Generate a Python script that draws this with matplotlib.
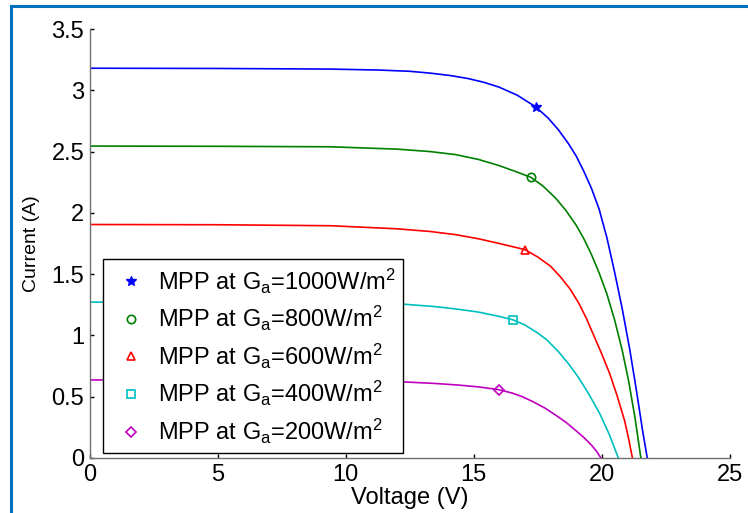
import matplotlib
matplotlib.use("Agg")
import matplotlib.pyplot as plt
from matplotlib.lines import Line2D

plt.rcParams['font.family'] = ['Liberation Sans', 'DejaVu Sans']
plt.rcParams['mathtext.default'] = 'regular'

# I-V curves (voltage V, current A)
v_1000 = [0, 5, 9.4, 11.3, 12.5, 13.3, 14.1, 14.8, 15.4, 16.0, 16.7, 17.42, 17.9, 18.3, 18.7,
          19.0, 19.3, 19.6, 19.9, 20.2, 20.5, 20.8, 21.1, 21.35, 21.6, 21.78]
i_1000 = [3.18, 3.178, 3.173, 3.165, 3.155, 3.14, 3.12, 3.095, 3.065, 3.025, 2.96, 2.865, 2.775,
          2.68, 2.565, 2.465, 2.34, 2.2, 2.03, 1.80, 1.52, 1.22, 0.88, 0.56, 0.22, 0.0]

v_800 = [0, 5, 9.4, 12.0, 13.3, 14.3, 15.2, 16.0, 16.6, 17.23, 17.7, 18.2, 18.6, 19.0, 19.3,
         19.6, 19.9, 20.2, 20.5, 20.8, 21.05, 21.3, 21.53]
i_800 = [2.545, 2.543, 2.539, 2.52, 2.50, 2.475, 2.435, 2.385, 2.34, 2.29, 2.22, 2.12, 2.02,
         1.90, 1.79, 1.66, 1.51, 1.34, 1.13, 0.88, 0.63, 0.33, 0.0]

v_600 = [0, 5, 9.4, 12.0, 13.3, 14.3, 15.2, 16.0, 16.5, 17.0, 17.5, 18.0, 18.4, 18.76, 19.1,
         19.4, 19.7, 20.0, 20.3, 20.6, 20.9, 21.05, 21.2]
i_600 = [1.905, 1.903, 1.895, 1.87, 1.848, 1.822, 1.788, 1.75, 1.725, 1.70, 1.64, 1.565, 1.475,
         1.38, 1.265, 1.14, 0.995, 0.85, 0.695, 0.51, 0.30, 0.16, 0.0]

v_400 = [0, 5, 10, 12.25, 13.5, 14.34, 15.2, 16.0, 16.55, 17.0, 17.5, 17.85, 18.3, 18.7, 19.1,
         19.5, 19.93, 20.3, 20.65]
i_400 = [1.272, 1.27, 1.264, 1.255, 1.235, 1.215, 1.19, 1.155, 1.126, 1.085, 1.02, 0.965, 0.87,
         0.77, 0.655, 0.52, 0.36, 0.19, 0.0]

v_200 = [0, 5, 10, 12.25, 13.5, 14.34, 15.2, 15.96, 16.5, 16.9, 17.33, 17.8, 18.2, 18.63, 19.0,
         19.3, 19.6, 19.8, 19.97]
i_200 = [0.637, 0.635, 0.628, 0.621, 0.608, 0.596, 0.58, 0.558, 0.53, 0.50, 0.458, 0.405, 0.35,
         0.287, 0.222, 0.168, 0.105, 0.055, 0.0]

# maximum power points
mpp_v = [17.42, 17.23, 17.0, 16.55, 15.99]
mpp_i = [2.865, 2.29, 1.70, 1.126, 0.557]
irradiance = ['1000', '800', '600', '400', '200']

xticks = [0, 5, 10, 15, 20, 25]
yticks = [0, 0.5, 1, 1.5, 2, 2.5, 3, 3.5]
yticklabels = ['0', '0.5', '1', '1.5', '2', '2.5', '3', '3.5']

colors = ['#0000ff', '#008000', '#ff0000', '#00bfbf', '#bf00bf']
markers = ['*', 'o', '^', 's', 'D']
msizes = [6, 6, 6, 6, 5]

fig = plt.figure(figsize=(7.48, 5.13), dpi=100)
ax = fig.add_axes([89.7 / 748, 55 / 513, 640 / 748, 429 / 513])

curves = [(v_1000, i_1000), (v_800, i_800), (v_600, i_600), (v_400, i_400), (v_200, i_200)]
for (v, i), c in zip(curves, colors):
    ax.plot(v, i, color=c, lw=1.2, solid_joinstyle='round')

handles = []
for k in range(5):
    mk = markers[k]
    if mk == '*':
        h, = ax.plot([mpp_v[k]], [mpp_i[k]], linestyle='none', marker=mk, color=colors[k],
                     ms=msizes[k] + 1, mfc=colors[k], mec=colors[k])
    else:
        h, = ax.plot([mpp_v[k]], [mpp_i[k]], linestyle='none', marker=mk, color=colors[k],
                     ms=msizes[k], mfc='none', mec=colors[k], mew=1.2)
    h.set_label('MPP at G$_{a}$=' + irradiance[k] + 'W/m$^{2}$')
    handles.append(h)

ax.set_xlim(0, 25)
ax.set_ylim(0, 3.5)
ax.set_xticks(xticks)
ax.set_yticks(yticks)
ax.set_yticklabels(yticklabels)
for s in ['top', 'right']:
    ax.spines[s].set_visible(False)
for s in ['left', 'bottom']:
    ax.spines[s].set_color('#707070')
    ax.spines[s].set_linewidth(1.0)
ax.tick_params(direction='in', length=3, width=1, color='black', labelsize=17, pad=4)
ax.set_xlabel('Voltage (V)', fontsize=17, labelpad=1)
ax.set_ylabel('Current (A)', fontsize=14, labelpad=8)

leg = ax.legend(handles=handles, loc='upper left', bbox_to_anchor=(0.0203, 0.463),
                borderaxespad=0, fontsize=17, frameon=True, fancybox=False,
                edgecolor='black', framealpha=1, handlelength=1.8, handletextpad=0.25,
                labelspacing=0.36, borderpad=0.3)
leg.get_frame().set_linewidth(1.0)

# blue page frame
fig.add_artist(Line2D([11 / 748, 1.0], [1 - 6 / 513, 1 - 6 / 513], color='#0070c0', lw=2.2,
                      transform=fig.transFigure))
fig.add_artist(Line2D([11 / 748, 11 / 748], [0, 1 - 6 / 513], color='#0070c0', lw=2.2,
                      transform=fig.transFigure, solid_capstyle='projecting'))

fig.savefig('out.png', dpi=100)
